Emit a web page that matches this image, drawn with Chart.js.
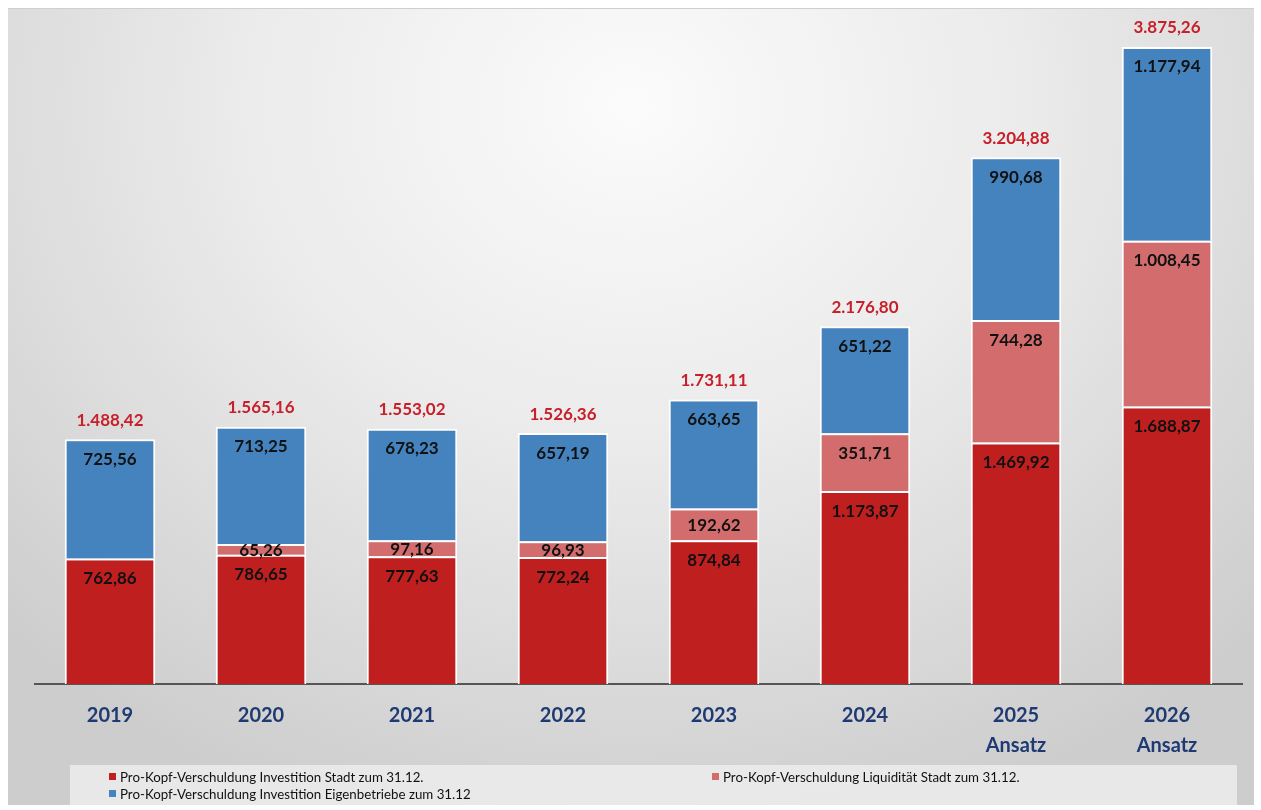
<!DOCTYPE html>
<html>
<head>
<meta charset="utf-8">
<script src="https://cdn.jsdelivr.net/npm/chart.js@4/dist/chart.umd.min.js"></script>
<style>
  body { margin: 0; background: #fff; width: 1261px; height: 810px; position: relative; overflow: hidden; }
  #panel {
    position: absolute; left: 8px; top: 8px; width: 1246px; height: 796px;
    border-top: 1px solid #cfcfcf;
    background: radial-gradient(ellipse 70% 95% at 50% 12%, #fbfbfb 0%, #ebebeb 45%, #cdcdcd 100%);
  }
  #wrap { position: absolute; left: 0; top: 0; width: 1261px; height: 810px; }
  #legend {
    position: absolute; left: 70px; top: 765px; width: 1167px; height: 40px;
    background: rgba(240,240,240,0.75);
    display: grid; grid-template-columns: 603px 1fr; grid-auto-rows: 17px;
    padding-top: 3px; box-sizing: border-box;
    font-family: Lato, "Open Sans", sans-serif; font-size: 13.3px; color: #111;
  }
  #legend .item { display: flex; align-items: center; padding-left: 39px; white-space: nowrap; }
  #legend .box { width: 7px; height: 7px; margin-right: 4px; }
</style>
</head>
<body>
<div id="panel"></div>
<div id="wrap"><canvas id="chart" width="1261" height="810"></canvas></div>
<div id="legend"></div>
<script>
// categories
var YEARS = [['2019'], ['2020'], ['2021'], ['2022'], ['2023'], ['2024'], ['2025', 'Ansatz'], ['2026', 'Ansatz']];

// series values (Euro pro Kopf)
var STADT = [762.86, 786.65, 777.63, 772.24, 874.84, 1173.87, 1469.92, 1688.87];
var LIQUIDITAET = [null, 65.26, 97.16, 96.93, 192.62, 351.71, 744.28, 1008.45];
var EIGENBETRIEBE = [725.56, 713.25, 678.23, 657.19, 663.65, 651.22, 990.68, 1177.94];

var LABELS = [
  'Pro-Kopf-Verschuldung Investition Stadt zum 31.12.',
  'Pro-Kopf-Verschuldung Liquidität Stadt zum 31.12.',
  'Pro-Kopf-Verschuldung Investition Eigenbetriebe zum 31.12'
];
var COLORS = ['#C01F1F', '#D36D6D', '#4583BE'];

function fmt(v) {
  var parts = v.toFixed(2).split('.');
  return parts[0].replace(/\B(?=(\d{3})+(?!\d))/g, '.') + ',' + parts[1];
}

var labelPlugin = {
  id: 'barLabels',
  afterDatasetsDraw: function(chart) {
    var ctx = chart.ctx;
    ctx.save();
    ctx.textAlign = 'center';
    ctx.textBaseline = 'middle';
    ctx.font = '700 17px Lato';
    var tops = [];
    chart.data.datasets.forEach(function(ds, i) {
      var meta = chart.getDatasetMeta(i);
      meta.data.forEach(function(bar, j) {
        var v = ds.data[j];
        if (v == null) return;
        var p = bar.getProps(['x', 'y', 'base'], true);
        var h = p.base - p.y;
        tops[j] = tops[j] == null ? p.y : Math.min(tops[j], p.y);
        ctx.fillStyle = '#111';
        ctx.fillText(fmt(v), p.x, p.y + Math.min(20, h / 2 + 1));
      });
    });
    // totals above each bar
    ctx.fillStyle = '#C8202A';
    var meta0 = chart.getDatasetMeta(0);
    tops.forEach(function(top, j) {
      var sum = 0;
      chart.data.datasets.forEach(function(ds) { sum += ds.data[j] || 0; });
      ctx.fillText(fmt(sum), meta0.data[j].x, top - 19);
    });
    ctx.restore();
  }
};

var chart = new Chart(document.getElementById('chart').getContext('2d'), {
  type: 'bar',
  data: {
    labels: YEARS,
    datasets: [
      { label: LABELS[0], data: STADT, backgroundColor: COLORS[0] },
      { label: LABELS[1], data: LIQUIDITAET, backgroundColor: COLORS[1] },
      { label: LABELS[2], data: EIGENBETRIEBE, backgroundColor: COLORS[2] }
    ].map(function(d) {
      d.borderColor = '#fff';
      d.borderWidth = 2;
      d.borderSkipped = 'start';
      d.barPercentage = 0.6;
      d.categoryPercentage = 1;
      return d;
    })
  },
  options: {
    responsive: false,
    animation: false,
    layout: { padding: { left: 34.5, right: 18.5, top: 26.5, bottom: 0 } },
    plugins: {
      legend: { display: false },
      tooltip: { enabled: false }
    },
    scales: {
      x: {
        stacked: true,
        grid: { display: false, drawTicks: false },
        border: { display: true, color: '#555', width: 2 },
        ticks: {
          color: '#1F3A72',
          font: { family: 'Lato', weight: '700', size: 20, lineHeight: 1.5 },
          padding: 17
        },
        afterFit: function(s) { s.height = 126; }
      },
      y: {
        stacked: true,
        display: false,
        min: 0,
        max: 4000
      }
    }
  },
  plugins: [labelPlugin]
});

// legend as html, built from datasets
var legend = document.getElementById('legend');
chart.data.datasets.forEach(function(ds) {
  var item = document.createElement('div');
  item.className = 'item';
  var box = document.createElement('span');
  box.className = 'box';
  box.style.background = ds.backgroundColor;
  item.appendChild(box);
  item.appendChild(document.createTextNode(ds.label));
  legend.appendChild(item);
});
</script>
</body>
</html>
